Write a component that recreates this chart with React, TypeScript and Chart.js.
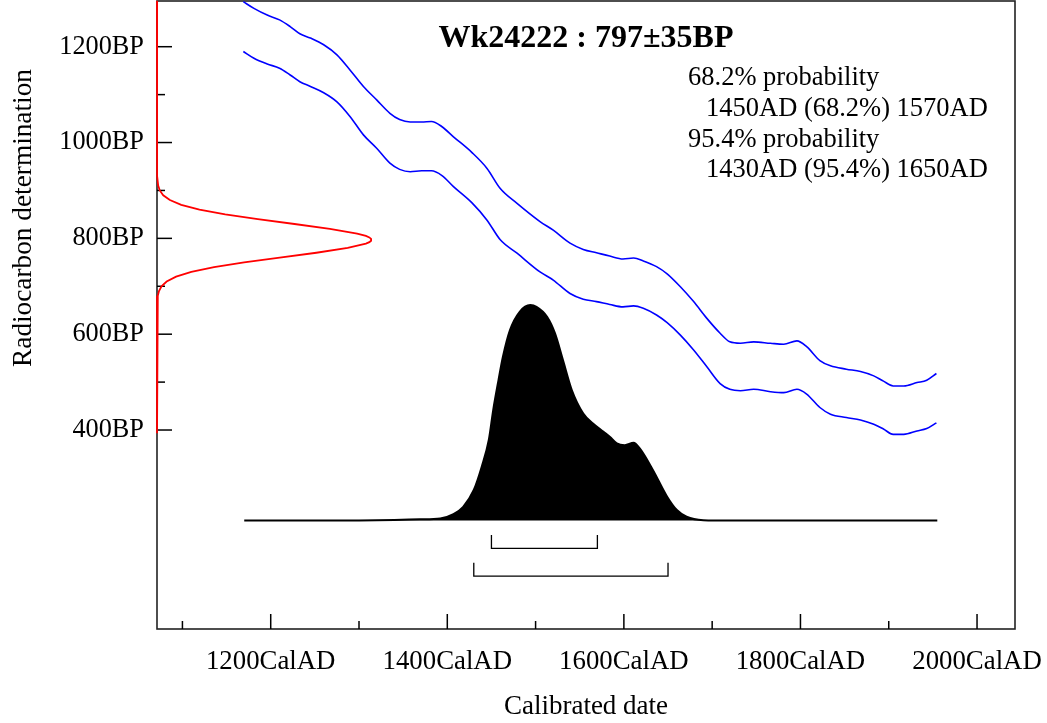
import React, { useEffect, useRef } from "react";
import { Chart, registerables } from "chart.js";

Chart.register(...registerables);

const FONT = '"Liberation Serif", "Times New Roman", Times, serif';

const TITLE = "Wk24222 : 797±35BP";
const X_TITLE = "Calibrated date";
const Y_TITLE = "Radiocarbon determination";
const PROB_HEADERS = ["68.2% probability", "95.4% probability"];
const PROB_RANGES = ["1450AD (68.2%) 1570AD", "1430AD (95.4%) 1650AD"];

const X_TICKS = [1100, 1200, 1300, 1400, 1500, 1600, 1700, 1800, 1900, 2000];
const Y_TICKS = [400, 500, 600, 700, 800, 900, 1000, 1100, 1200];

// calibration curve (upper and lower lines), cal AD vs BP
const CURVE_YEARS = [
  1169, 1181, 1196, 1210, 1222, 1233, 1245, 1260, 1275, 1290, 1305, 1320, 1335, 1346,
  1358, 1371, 1382, 1394, 1407, 1428, 1445, 1460, 1479, 1505, 1520, 1539, 1554, 1569,
  1584, 1599, 1611, 1622, 1637, 1649, 1664, 1679, 1694, 1709, 1720, 1732, 1747, 1766,
  1781, 1796, 1807, 1822, 1834, 1852, 1868, 1883, 1894, 1905, 1917, 1932, 1943, 1954,
];
const CURVE_UPPER = [
  1294, 1280, 1266, 1256, 1242, 1227, 1218, 1204, 1183, 1151, 1117, 1089, 1061, 1048,
  1043, 1043, 1044, 1033, 1012, 979, 946, 904, 873, 835, 817, 790, 777, 770,
  763, 757, 759, 753, 741, 726, 699, 668, 633, 602, 584, 581, 584, 581,
  579, 586, 574, 545, 534, 527, 522, 513, 502, 492, 492, 499, 504, 518,
];
const CURVE_LOWER = [
  1190, 1176, 1164, 1155, 1141, 1127, 1117, 1104, 1085, 1054, 1016, 988, 957, 944,
  939, 941, 941, 931, 908, 874, 838, 797, 769, 730, 713, 685, 673, 668,
  662, 657, 659, 654, 640, 624, 598, 567, 532, 497, 485, 482, 485, 480,
  478, 485, 475, 447, 433, 426, 421, 412, 402, 391, 391, 398, 403, 415,
];

// radiocarbon measurement (red, drawn along the BP axis), relative probability
const RED_BP = [
  1296, 960, 930, 910, 900, 890, 880, 870, 860, 850, 840, 830, 820, 810, 805, 802, 799,
  795, 792, 789, 780, 770, 760, 750, 740, 730, 720, 710, 700, 690, 680, 660, 630, 393,
];
const RED_PROB = [
  0, 0, 0.001, 0.0055, 0.013, 0.029, 0.06, 0.113, 0.198, 0.318, 0.47, 0.641, 0.806, 0.933, 0.974, 0.99, 0.998,
  0.998, 0.99, 0.974, 0.889, 0.743, 0.572, 0.406, 0.266, 0.16, 0.089, 0.045, 0.021, 0.0093, 0.0037, 0.0005, 0, 0,
];

// calibrated distribution (black), relative probability
const DIST_YEARS = [
  1170, 1250, 1300, 1340, 1369, 1392, 1407, 1418, 1430, 1439, 1447, 1452, 1458, 1463,
  1471, 1482, 1494, 1501, 1513, 1522, 1531, 1541, 1554, 1565, 1577, 1584, 1592, 1601,
  1611, 1618, 1633, 1649, 1660, 1671, 1690, 1720, 1800, 1955,
];
const DIST_PROB = [
  0, 0, 0.001, 0.003, 0.006, 0.01, 0.03, 0.064, 0.142, 0.25, 0.374, 0.513, 0.652, 0.76,
  0.884, 0.969, 1.0, 0.992, 0.946, 0.869, 0.745, 0.606, 0.497, 0.451, 0.412, 0.389, 0.358, 0.35,
  0.361, 0.335, 0.234, 0.111, 0.049, 0.018, 0.002, 0, 0, 0,
];

const RANGE_68 = [1450, 1570];
const RANGE_95 = [1430, 1650];

const BRACKET_68 = { top: -0.067, bottom: -0.129 };
const BRACKET_95 = { top: -0.196, bottom: -0.258 };

const bracket = (r: number[], lv: { top: number; bottom: number }) => [
  { x: r[0], y: lv.top },
  { x: r[0], y: lv.bottom },
  { x: r[1], y: lv.bottom },
  { x: r[1], y: lv.top },
];

const decorPlugin = {
  id: "decor",
  beforeDatasetsDraw(chart: any) {
    const { ctx, chartArea: a, scales } = chart;
    ctx.save();
    ctx.strokeStyle = "#222";
    ctx.lineWidth = 1.6;
    ctx.strokeRect(a.left, a.top, a.right - a.left, a.bottom - a.top);
    ctx.strokeStyle = "#000";
    ctx.lineWidth = 1.5;
    scales.x.ticks.forEach((t: any) => {
      const px = scales.x.getPixelForValue(t.value);
      const len = t.value % 200 === 0 ? 15 : 8;
      ctx.beginPath();
      ctx.moveTo(px, a.bottom);
      ctx.lineTo(px, a.bottom - len);
      ctx.stroke();
    });
    scales.y.ticks.forEach((t: any) => {
      const py = scales.y.getPixelForValue(t.value);
      const len = t.value % 200 === 0 ? 15 : 8;
      ctx.beginPath();
      ctx.moveTo(a.left, py);
      ctx.lineTo(a.left + len, py);
      ctx.stroke();
    });
    ctx.restore();
  },
  afterDraw(chart: any) {
    const { ctx, chartArea: a } = chart;
    const cx = (a.left + a.right) / 2;
    ctx.save();
    ctx.fillStyle = "#000";
    ctx.textBaseline = "alphabetic";
    ctx.textAlign = "center";
    ctx.font = `bold 32px ${FONT}`;
    ctx.fillText(TITLE, cx, 47);

    ctx.font = `26.5px ${FONT}`;
    ctx.textAlign = "left";
    ctx.fillText(PROB_HEADERS[0], 688, 85);
    ctx.fillText(PROB_RANGES[0], 706, 116);
    ctx.fillText(PROB_HEADERS[1], 688, 147);
    ctx.fillText(PROB_RANGES[1], 706, 177);

    ctx.font = `27px ${FONT}`;
    ctx.textAlign = "center";
    ctx.fillText(X_TITLE, cx, 714);

    ctx.font = `27.3px ${FONT}`;
    ctx.translate(31, 218);
    ctx.rotate(-Math.PI / 2);
    ctx.fillText(Y_TITLE, 0, 0);
    ctx.restore();
  },
};

export default function App() {
  const canvasRef = useRef<HTMLCanvasElement | null>(null);

  useEffect(() => {
    document.body.style.margin = "0";
    const canvas = canvasRef.current;
    if (!canvas) return;

    const chart = new Chart(canvas, {
      type: "line",
      data: {
        datasets: [
          {
            label: "upper",
            data: CURVE_YEARS.map((x, i) => ({ x, y: CURVE_UPPER[i] })),
            borderColor: "#0000ff",
            borderWidth: 1.6,
            pointRadius: 0,
            cubicInterpolationMode: "monotone",
            xAxisID: "x",
            yAxisID: "y",
          },
          {
            label: "lower",
            data: CURVE_YEARS.map((x, i) => ({ x, y: CURVE_LOWER[i] })),
            borderColor: "#0000ff",
            borderWidth: 1.6,
            pointRadius: 0,
            cubicInterpolationMode: "monotone",
            xAxisID: "x",
            yAxisID: "y",
          },
          {
            label: "measurement",
            data: RED_BP.map((y, i) => ({ x: RED_PROB[i], y })),
            borderColor: "#ff0000",
            borderWidth: 1.8,
            pointRadius: 0,
            tension: 0,
            clip: { left: 3, right: 0, top: 1, bottom: 0 },
            xAxisID: "xp",
            yAxisID: "y",
          },
          {
            label: "range68",
            data: bracket(RANGE_68, BRACKET_68),
            borderColor: "#000",
            borderWidth: 1.3,
            pointRadius: 0,
            tension: 0,
            xAxisID: "x",
            yAxisID: "yp",
          },
          {
            label: "range95",
            data: bracket(RANGE_95, BRACKET_95),
            borderColor: "#000",
            borderWidth: 1.3,
            pointRadius: 0,
            tension: 0,
            xAxisID: "x",
            yAxisID: "yp",
          },
          {
            label: "calibrated",
            data: DIST_YEARS.map((x, i) => ({ x, y: DIST_PROB[i] })),
            borderColor: "#000",
            backgroundColor: "#000",
            borderWidth: 2,
            pointRadius: 0,
            fill: "origin",
            cubicInterpolationMode: "monotone",
            xAxisID: "x",
            yAxisID: "yp",
          },
        ],
      },
      options: {
        animation: false,
        responsive: true,
        maintainAspectRatio: false,
        layout: { padding: { top: 1, right: 32, left: 0, bottom: 0 } },
        plugins: {
          legend: { display: false },
          tooltip: { enabled: false },
          title: { display: false },
        },
        elements: { point: { radius: 0 } },
        scales: {
          x: {
            type: "linear",
            position: "bottom",
            min: 1071.2,
            max: 2043,
            grid: { display: false, drawTicks: false },
            border: { display: false },
            afterBuildTicks: (s: any) => {
              s.ticks = X_TICKS.map((v) => ({ value: v }));
            },
            afterFit: (s: any) => {
              s.height = 94;
              s.paddingLeft = 0;
              s.paddingRight = 0;
            },
            ticks: {
              autoSkip: false,
              maxRotation: 0,
              minRotation: 0,
              padding: 20,
              color: "#000",
              font: { family: FONT, size: 26.8, lineHeight: 1 },
              callback: (v: any) => (Number(v) % 200 === 0 ? `${v}CalAD` : ""),
            },
          },
          y: {
            type: "linear",
            position: "left",
            min: -15.3,
            max: 1295.4,
            grid: { display: false, drawTicks: false },
            border: { display: false },
            afterBuildTicks: (s: any) => {
              s.ticks = Y_TICKS.map((v) => ({ value: v }));
            },
            afterFit: (s: any) => {
              s.width = 157;
              s.paddingTop = 0;
              s.paddingBottom = 0;
            },
            ticks: {
              autoSkip: false,
              padding: 13,
              color: "#000",
              font: { family: FONT, size: 26.3, lineHeight: 1 },
              callback: (v: any) => (Number(v) % 200 === 0 ? `${v}BP` : ""),
            },
          },
          xp: {
            type: "linear",
            display: false,
            position: "top",
            min: 0,
            max: 4,
          },
          yp: {
            type: "linear",
            display: false,
            position: "right",
            min: -0.503,
            max: 2.411,
          },
        },
      },
      plugins: [decorPlugin],
    } as any);

    return () => chart.destroy();
  }, []);

  return (
    <div style={{ width: 1047, height: 723, position: "relative", background: "#fff" }}>
      <canvas ref={canvasRef} />
    </div>
  );
}
